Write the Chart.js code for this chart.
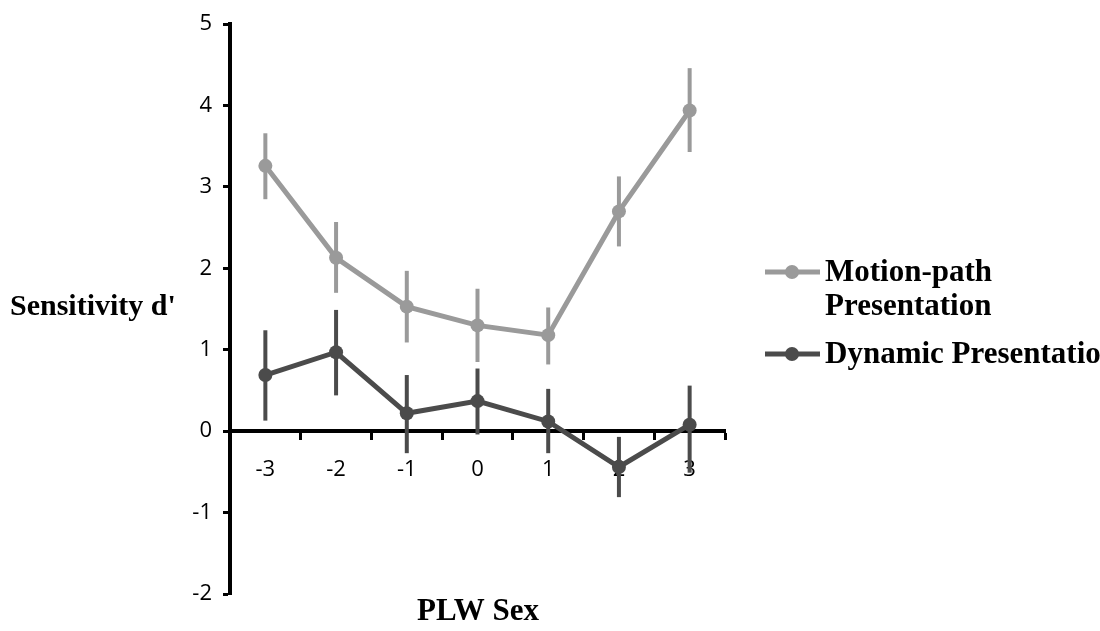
<!DOCTYPE html>
<html>
<head>
<meta charset="utf-8">
<script src="https://cdn.jsdelivr.net/npm/chart.js@4/dist/chart.umd.min.js"></script>
<style>
  html, body { margin: 0; padding: 0; background: #fff; }
  #chart { display: block; }
</style>
</head>
<body>
<canvas id="chart" width="1100" height="631"></canvas>
<script>
// PLW sex levels
const xLabels = ['-3', '-2', '-1', '0', '1', '2', '3'];

// Motion-path presentation: mean d' and error bar ends
const motionMean = [3.26, 2.13, 1.53, 1.30, 1.18, 2.70, 3.94];
const motionLow  = [2.85, 1.70, 1.09, 0.85, 0.82, 2.27, 3.43];
const motionHigh = [3.66, 2.57, 1.97, 1.75, 1.52, 3.13, 4.46];

// Dynamic presentation
const dynamicMean = [0.69, 0.97, 0.22, 0.37, 0.12, -0.44, 0.08];
const dynamicLow  = [0.13, 0.44, -0.27, -0.04, -0.27, -0.81, -0.51];
const dynamicHigh = [1.24, 1.49, 0.69, 0.77, 0.52, -0.07, 0.56];

const yMin = -2, yMax = 5;

const lightGray = '#9a9a9a';
const darkGray = '#4b4b4b';
const serifFamily = '"Liberation Serif", "Times New Roman", serif';
const tickFont = { family: '"Open Sans", "Noto Sans", sans-serif', size: 22 };

// vertical error bars, no caps
const errorBars = {
    id: 'errorBars',
    beforeDatasetsDraw(chart) {
        const ctx = chart.ctx;
        const xs = chart.scales.x, ys = chart.scales.y;
        chart.data.datasets.forEach(function(ds) {
            ctx.save();
            ctx.strokeStyle = ds.borderColor;
            ctx.lineWidth = 4;
            ds.errLow.forEach(function(lo, i) {
                const x = xs.getPixelForValue(i);
                ctx.beginPath();
                ctx.moveTo(x, ys.getPixelForValue(lo));
                ctx.lineTo(x, ys.getPixelForValue(ds.errHigh[i]));
                ctx.stroke();
            });
            ctx.restore();
        });
    }
};

// y title (horizontal), x title and the legend on the right
const annotations = {
    id: 'annotations',
    afterDraw(chart) {
        const ctx = chart.ctx;
        ctx.save();
        ctx.fillStyle = '#000';
        ctx.textBaseline = 'middle';
        ctx.textAlign = 'left';
        ctx.font = 'bold 30px ' + serifFamily;
        ctx.fillText("Sensitivity d'", 10, 307);
        ctx.font = 'bold 31px ' + serifFamily;
        ctx.textAlign = 'center';
        ctx.fillText('PLW Sex', 478, 612);

        const entries = [
            { ds: chart.data.datasets[0], y: 272, lines: ['Motion-path', 'Presentation'] },
            { ds: chart.data.datasets[1], y: 354, lines: ['Dynamic Presentation'] }
        ];
        entries.forEach(function(e) {
            ctx.strokeStyle = e.ds.borderColor;
            ctx.lineWidth = 5;
            ctx.beginPath();
            ctx.moveTo(765, e.y);
            ctx.lineTo(820, e.y);
            ctx.stroke();
            ctx.fillStyle = e.ds.borderColor;
            ctx.beginPath();
            ctx.arc(792, e.y, 7, 0, Math.PI * 2);
            ctx.fill();
            ctx.fillStyle = '#000';
            ctx.textAlign = 'left';
            e.lines.forEach(function(t, k) {
                ctx.fillText(t, 825, e.y + 1 + k * 34);
            });
        });
        ctx.restore();
    }
};

new Chart(document.getElementById('chart'), {
    type: 'line',
    data: {
        labels: xLabels,
        datasets: [
            {
                label: 'Motion-path Presentation',
                data: motionMean,
                errLow: motionLow,
                errHigh: motionHigh,
                borderColor: lightGray,
                backgroundColor: lightGray,
                borderWidth: 5,
                pointRadius: 7,
                pointBorderWidth: 0,
                tension: 0,
                clip: false
            },
            {
                label: 'Dynamic Presentation',
                data: dynamicMean,
                errLow: dynamicLow,
                errHigh: dynamicHigh,
                borderColor: darkGray,
                backgroundColor: darkGray,
                borderWidth: 5,
                pointRadius: 7,
                pointBorderWidth: 0,
                tension: 0,
                clip: false
            }
        ]
    },
    options: {
        responsive: false,
        animation: false,
        devicePixelRatio: 1,
        layout: {
            padding: { left: 175, right: 375, top: 22, bottom: 37 }
        },
        plugins: {
            legend: { display: false },
            tooltip: { enabled: false }
        },
        scales: {
            x: {
                type: 'category',
                position: { y: 0 },
                offset: true,
                grid: {
                    offset: true,
                    drawOnChartArea: false,
                    drawTicks: true,
                    tickLength: 7,
                    tickWidth: 3,
                    tickColor: '#000'
                },
                border: { color: '#000', width: 4 },
                ticks: {
                    color: '#000',
                    padding: 18,
                    font: tickFont
                }
            },
            y: {
                min: yMin,
                max: yMax,
                afterFit: function(scale) { scale.width = 55; },
                grid: {
                    drawOnChartArea: false,
                    drawTicks: true,
                    tickLength: 7,
                    tickWidth: 3,
                    tickColor: '#000'
                },
                border: { color: '#000', width: 4 },
                ticks: {
                    stepSize: 1,
                    color: '#000',
                    padding: 11,
                    font: tickFont
                }
            }
        }
    },
    plugins: [errorBars, annotations]
});
</script>
</body>
</html>
